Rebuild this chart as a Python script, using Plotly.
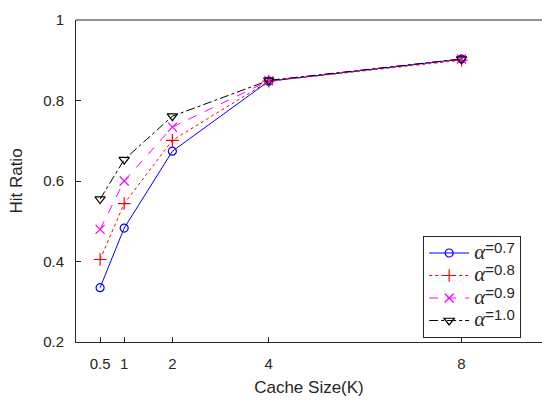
import plotly.graph_objects as go

cache_sizes = [0.5, 1, 2, 4, 8]
x_tick_vals = [0.5, 1, 2, 4, 8]
x_tick_text = ["0.5", "1", "2", "4", "8"]
y_tick_vals = [0.2, 0.4, 0.6, 0.8, 1.0]
y_tick_text = ["0.2", "0.4", "0.6", "0.8", "1"]

hit_a07 = [0.335, 0.483, 0.674, 0.848, 0.903]
hit_a08 = [0.405, 0.544, 0.701, 0.848, 0.900]
hit_a09 = [0.480, 0.600, 0.734, 0.849, 0.903]
hit_a10 = [0.555, 0.653, 0.761, 0.850, 0.903]

alpha_labels = ["0.7", "0.8", "0.9", "1.0"]
series = [hit_a07, hit_a08, hit_a09, hit_a10]
colors = ["#0000ff", "#ff0000", "#ff00ff", "#000000"]
dashes = ["solid", "dot", "dash", "dashdot"]
symbols = ["circle-open", "cross-thin-open", "x-thin-open", "triangle-down-open"]
msizes = [8, 9, 9, 9]

fig = go.Figure()
for lab, ys, c, d, s, ms in zip(alpha_labels, series, colors, dashes, symbols, msizes):
    fig.add_trace(go.Scatter(
        x=cache_sizes, y=ys, mode="lines+markers",
        name="<span style='font-family:Liberation Serif;font-size:21px'><i>α</i></span>"
             "<sup><span style='font-size:15px'>=" + lab + "</span></sup>",
        line=dict(color=c, width=1, dash=d),
        marker=dict(symbol=s, size=ms, color=c, line=dict(color=c, width=1.2)),
    ))

fig.update_layout(
    width=542, height=401,
    margin=dict(l=76, r=0, t=20, b=59),
    paper_bgcolor="white", plot_bgcolor="white",
    font=dict(family="Liberation Sans, Arial, sans-serif", size=15, color="#262626"),
    showlegend=True,
    legend=dict(
        x=0.745, y=0.33, xanchor="left", yanchor="top",
        bgcolor="white", bordercolor="#262626", borderwidth=1,
        font=dict(size=15, color="#262626"),
        tracegroupgap=0, itemwidth=40,
    ),
    xaxis=dict(
        range=[0, 9.67], tickvals=x_tick_vals, ticktext=x_tick_text,
        showgrid=False, zeroline=False, showline=True, linecolor="#262626", linewidth=1,
        mirror=False, ticks="inside", ticklen=5, tickcolor="#262626",
        tickfont=dict(size=15), ticklabelstandoff=8,
        title=dict(text="Cache Size(K)", font=dict(size=17), standoff=10),
    ),
    yaxis=dict(
        range=[0.2, 1.0], tickvals=y_tick_vals, ticktext=y_tick_text,
        showgrid=False, zeroline=False, showline=True, linecolor="#262626", linewidth=1,
        ticks="inside", ticklen=5, tickcolor="#262626",
        tickfont=dict(size=15), ticklabelstandoff=8,
        title=dict(text="Hit Ratio", font=dict(size=17), standoff=16),
    ),
)
# top border line of the axes box
fig.add_shape(type="line", xref="paper", yref="paper", x0=0, x1=1, y0=1, y1=1,
              line=dict(color="#262626", width=1))

fig.write_html("out.html")
